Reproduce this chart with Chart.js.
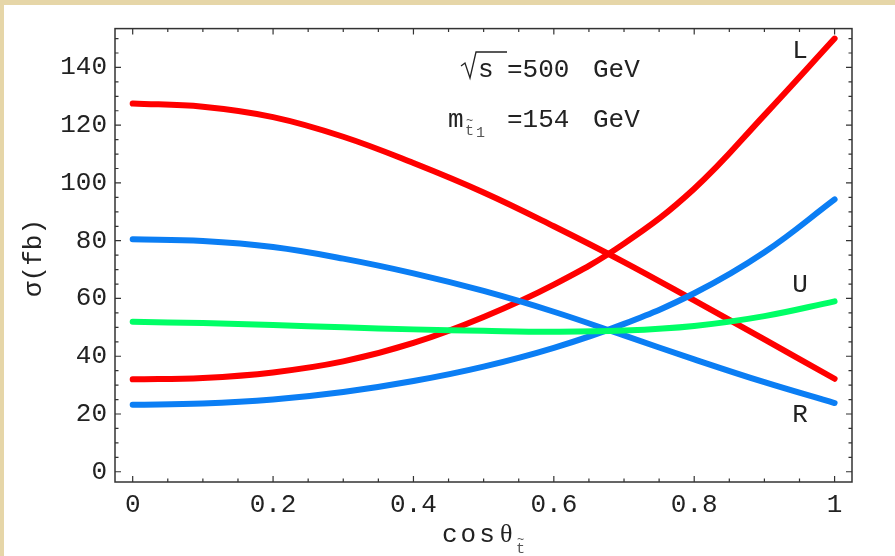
<!DOCTYPE html>
<html>
<head>
<meta charset="utf-8">
<script src="https://cdn.jsdelivr.net/npm/chart.js@4.4.0/dist/chart.umd.min.js"></script>
<style>
  html, body { margin: 0; padding: 0; background: #fff; }
  #wrap {
    width: 891px; height: 551px;
    border-top: 5px solid #e6d6a8;
    border-left: 4px solid #e6d6a8;
    background: #fff;
  }
  canvas { display: block; }
</style>
</head>
<body>
<div id="wrap"><canvas id="sigmaChart" width="891" height="551"></canvas></div>
<script>
// cos(theta) sample points and cross sections in fb
const cosTheta = [0, 0.1, 0.2, 0.3, 0.4, 0.5, 0.6, 0.7, 0.8, 0.9, 1.0];
const redRising = [32.0, 32.5, 34.4, 38.2, 44.6, 53.6, 64.8, 79.0, 98.0, 123.5, 150.0];
const redFalling = [127.5, 126.4, 122.8, 116.0, 106.9, 96.7, 85.0, 72.6, 59.3, 45.8, 32.2];
const blueRising = [23.2, 23.6, 25.0, 27.6, 31.4, 36.4, 42.9, 51.2, 61.8, 76.0, 94.3];
const blueFalling = [80.5, 79.9, 77.8, 73.8, 68.7, 62.6, 55.4, 47.2, 38.9, 31.0, 23.8];
const greenCurve = [51.9, 51.5, 50.8, 50.0, 49.3, 48.8, 48.5, 48.9, 50.5, 53.9, 59.0];

const xTicks = [0, 0.2, 0.4, 0.6, 0.8, 1];
const yTicks = [0, 20, 40, 60, 80, 100, 120, 140];

const RED = '#ff0000';
const BLUE = '#0b7ef4';
const GREEN = '#00ff66';
const INK = '#222';
const MONO = '"Liberation Mono", "DejaVu Sans Mono", monospace';

function series(ys, color) {
  return {
    data: cosTheta.map((x, i) => ({ x: x, y: ys[i] })),
    borderColor: color,
    borderWidth: 6,
    borderCapStyle: 'round',
    borderJoinStyle: 'round',
    pointRadius: 0,
    fill: false,
    tension: 0.4
  };
}

// frame with inward ticks on all four sides
const framePlugin = {
  id: 'frame',
  afterDraw(chart) {
    const { ctx, chartArea: a, scales } = chart;
    const xs = scales.x, ys = scales.y;
    ctx.save();
    ctx.strokeStyle = '#333';
    ctx.lineWidth = 1.5;
    ctx.strokeRect(a.left, a.top, a.right - a.left, a.bottom - a.top);
    ctx.lineWidth = 1.2;
    ctx.beginPath();
    for (let k = 0; k <= 20; k++) {
      const v = k * 0.05;
      const len = k % 4 === 0 ? 6 : 3.5;
      const px = xs.getPixelForValue(v);
      ctx.moveTo(px, a.bottom); ctx.lineTo(px, a.bottom - len);
      ctx.moveTo(px, a.top); ctx.lineTo(px, a.top + len);
    }
    for (let v = 0; v <= 150; v += 5) {
      const len = v % 20 === 0 ? 6 : 3.5;
      const py = ys.getPixelForValue(v);
      ctx.moveTo(a.left, py); ctx.lineTo(a.left + len, py);
      ctx.moveTo(a.right, py); ctx.lineTo(a.right - len, py);
    }
    ctx.stroke();
    ctx.restore();
  }
};

// axis titles, parameters and curve labels
const textPlugin = {
  id: 'notes',
  afterDraw(chart) {
    const ctx = chart.ctx;
    ctx.save();
    ctx.fillStyle = INK;
    ctx.strokeStyle = INK;
    ctx.textBaseline = 'alphabetic';
    ctx.font = '26px ' + MONO;

    // sqrt(s) = 500 GeV
    ctx.lineWidth = 1.3;
    ctx.beginPath();
    ctx.moveTo(457, 61); ctx.lineTo(461, 58); ctx.lineTo(466, 73);
    ctx.lineTo(472, 47); ctx.lineTo(503, 47);
    ctx.stroke();
    ctx.fillText('s', 474, 72);
    ctx.fillText('=500', 503, 72);
    ctx.fillText('GeV', 589, 72);

    // m_stop1 = 154 GeV
    ctx.fillText('m', 444, 122);
    ctx.fillText('=154', 503, 122);
    ctx.fillText('GeV', 589, 122);
    ctx.fillStyle = '#555';
    ctx.font = '15px ' + MONO;
    ctx.fillText('t', 461, 130);
    ctx.fillText('1', 472, 132);
    ctx.font = '12px ' + MONO;
    ctx.fillText('~', 462, 119);

    // curve labels
    ctx.fillStyle = INK;
    ctx.font = '26px ' + MONO;
    ctx.textAlign = 'center';
    ctx.fillText('L', 796, 53);
    ctx.fillText('U', 796, 287);
    ctx.fillText('R', 796, 417);

    // x title
    ctx.textAlign = 'left';
    ctx.letterSpacing = '3px';
    ctx.fillText('cos', 438, 537);
    ctx.letterSpacing = '0px';
    ctx.font = '26px "Liberation Serif", serif';
    ctx.fillText('\u03b8', 496, 537);
    ctx.fillStyle = '#555';
    ctx.font = '15px ' + MONO;
    ctx.fillText('t', 512, 548);
    ctx.font = '12px ' + MONO;
    ctx.fillText('~', 513, 538);

    // y title
    ctx.fillStyle = INK;
    ctx.font = '26px ' + MONO;
    ctx.translate(30, 253);
    ctx.rotate(-Math.PI / 2);
    ctx.textAlign = 'center';
    ctx.textBaseline = 'middle';
    ctx.fillText('\u03c3(fb)', 0, 0);
    ctx.restore();
  }
};

new Chart(document.getElementById('sigmaChart'), {
  type: 'line',
  data: {
    datasets: [
      series(greenCurve, GREEN),
      series(blueRising, BLUE),
      series(blueFalling, BLUE),
      series(redRising, RED),
      series(redFalling, RED)
    ]
  },
  options: {
    responsive: false,
    animation: false,
    events: [],
    layout: { padding: { left: 0, top: 22, right: 43, bottom: 0 } },
    plugins: { legend: { display: false }, tooltip: { enabled: false } },
    scales: {
      x: {
        type: 'linear',
        min: -0.0252,
        max: 1.0248,
        grid: { display: false, drawTicks: false },
        border: { display: false },
        afterBuildTicks: (s) => { s.ticks = xTicks.map(v => ({ value: v })); },
        afterFit: (s) => { s.height = 74; },
        ticks: {
          color: INK,
          padding: 8,
          maxRotation: 0,
          font: { family: MONO, size: 26 },
          callback: (v) => String(v)
        }
      },
      y: {
        type: 'linear',
        min: -3.55,
        max: 153.45,
        grid: { display: false, drawTicks: false },
        border: { display: false },
        afterBuildTicks: (s) => { s.ticks = yTicks.map(v => ({ value: v })); },
        afterFit: (s) => { s.width = 111; },
        ticks: {
          color: INK,
          padding: 8,
          font: { family: MONO, size: 26 },
          callback: (v) => String(v)
        }
      }
    }
  },
  plugins: [framePlugin, textPlugin]
});
</script>
</body>
</html>
